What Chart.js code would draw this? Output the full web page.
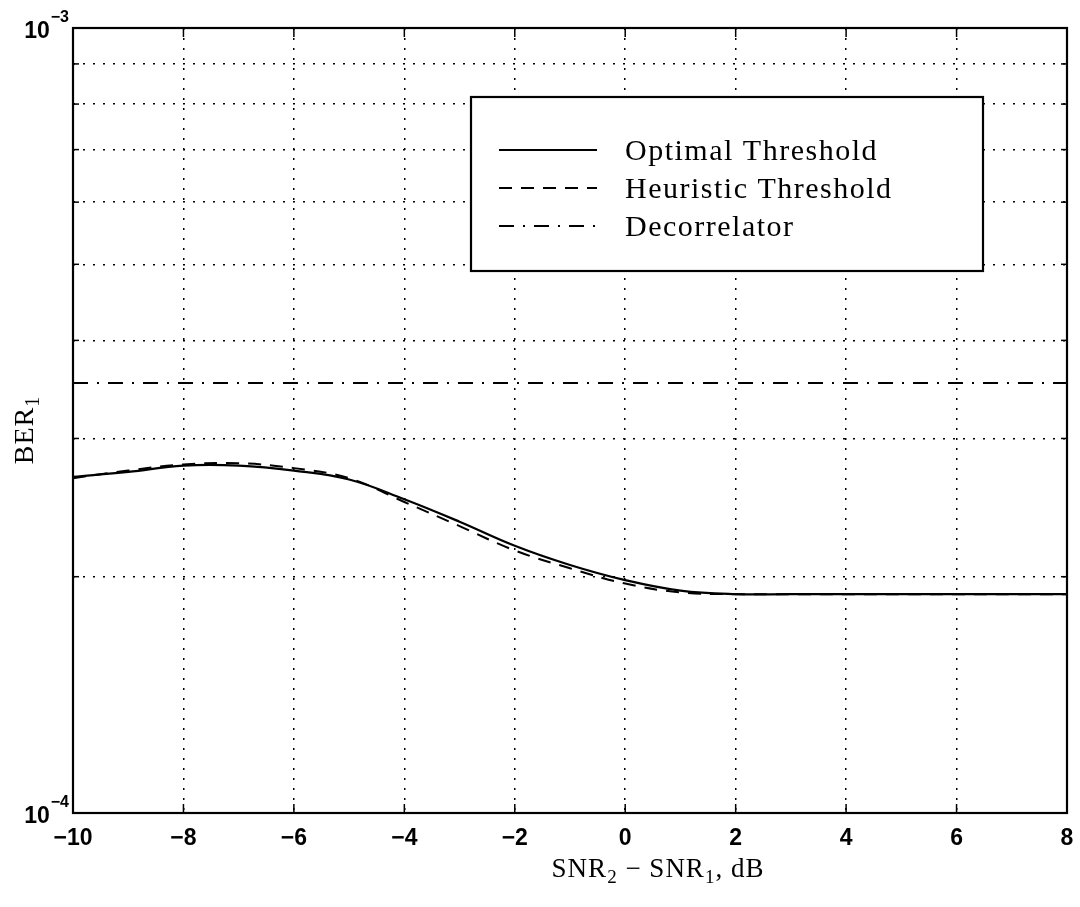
<!DOCTYPE html>
<html>
<head>
<meta charset="utf-8">
<script src="https://cdn.jsdelivr.net/npm/chart.js@4.4.1/dist/chart.umd.min.js"></script>
<style>
html,body{margin:0;padding:0;background:#fff;}
#wrap{width:1080px;height:907px;}
</style>
</head>
<body>
<div id="wrap"><canvas id="chartBer" width="1080" height="907"></canvas></div>
<script>

/* DATA (BER values in units of 1e-4) */

const snrDiff = [-10,-9,-8,-7,-6,-5,-4,-3,-2,-1,0,1,2,3,4,5,6,7,8];

const berOptimal   = [2.68,2.72,2.77,2.77,2.73,2.66,2.51,2.35,2.19,2.07,1.98,1.92,1.90,1.90,1.90,1.90,1.90,1.90,1.90];
const berHeuristic = [2.67,2.73,2.78,2.79,2.75,2.67,2.49,2.32,2.16,2.05,1.96,1.91,1.90,1.90,1.90,1.90,1.90,1.90,1.90];
const berDecorr    = [3.53,3.53,3.53,3.53,3.53,3.53,3.53,3.53,3.53,3.53,3.53,3.53,3.53,3.53,3.53,3.53,3.53,3.53,3.53];

const seriesNames = ["Optimal Threshold","Heuristic Threshold","Decorrelator"];
const xTicks = [-10,-8,-6,-4,-2,0,2,4,6,8];
const yTicks = [1e-4,2e-4,3e-4,4e-4,5e-4,6e-4,7e-4,8e-4,9e-4,1e-3];
const yDecades = [1e-4,1e-3];

function toPoints(vals){
return snrDiff.map((x,i)=>({x:x,y:vals[i]*1e-4}));
}

function minus(v){
return v<0 ? "\u2212"+Math.abs(v) : String(v);
}

/* rich text: parts = [{t, sub, sup}] */

function drawRich(ctx,parts,x,y,size,family,align){
let widths = parts.map(p=>{
ctx.font = ((p.sub||p.sup)? Math.round(size*0.7) : size)+"px "+family;
return ctx.measureText(p.t).width;
});
let total = widths.reduce((a,b)=>a+b,0);
let cx = align==="right" ? x-total : (align==="center" ? x-total/2 : x);
parts.forEach((p,i)=>{
ctx.font = ((p.sub||p.sup)? Math.round(size*0.7) : size)+"px "+family;
let dy = p.sub ? size*0.22 : (p.sup ? -size*0.45 : 0);
ctx.fillText(p.t,cx,y+dy);
cx += widths[i];
});
}

/* frame, inward ticks, labels, legend */

const decorPlugin = {
id:"decor",
afterDraw(chart){

let ctx = chart.ctx;
let a = chart.chartArea;
let xs = chart.scales.x;
let ys = chart.scales.y;

ctx.save();
ctx.strokeStyle = "#000";
ctx.fillStyle = "#000";
ctx.setLineDash([]);

function seg(x1,y1,x2,y2){
ctx.beginPath(); ctx.moveTo(x1,y1); ctx.lineTo(x2,y2); ctx.stroke();
}

ctx.lineWidth = 1.5;
xs.ticks.forEach(t=>{
let px = xs.getPixelForValue(t.value);
seg(px,a.bottom,px,a.bottom-9);
seg(px,a.top,px,a.top+9);
});
ys.ticks.forEach(t=>{
let py = ys.getPixelForValue(t.value);
let len = yDecades.includes(t.value) ? 9 : 6;
seg(a.left,py,a.left+len,py);
seg(a.right,py,a.right-len,py);
});

ctx.lineWidth = 2.2;
ctx.strokeRect(a.left,a.top,a.right-a.left,a.bottom-a.top);

/* y decade labels 10^-4, 10^-3 */

ctx.textBaseline = "alphabetic";
yDecades.forEach(v=>{
let py = ys.getPixelForValue(v);
let exp = "\u2212"+Math.round(-Math.log10(v));
ctx.font = "bold 16px 'Liberation Sans'";
let ew = ctx.measureText(exp).width;
ctx.fillText(exp,69-ew,py-6);
ctx.font = "bold 23px 'Liberation Sans'";
let bw = ctx.measureText("10").width;
ctx.fillText("10",68-ew-bw,py+10);
});

/* axis titles */

let serif = "'Liberation Serif'";
ctx.letterSpacing = "1px";
drawRich(ctx,[{t:"SNR"},{t:"2",sub:true},{t:" \u2212 SNR"},{t:"1",sub:true},{t:", dB"}],658,877,27,serif,"center");

ctx.save();
ctx.translate(33,430);
ctx.rotate(-Math.PI/2);
drawRich(ctx,[{t:"BER"},{t:"1",sub:true}],0,0,28,serif,"center");
ctx.restore();

/* legend box */

let lx=471, ly=97, lw=512, lh=174;
ctx.fillStyle = "#fff";
ctx.fillRect(lx,ly,lw,lh);
ctx.lineWidth = 2.2;
ctx.strokeRect(lx,ly,lw,lh);

ctx.letterSpacing = "1.5px";
ctx.font = "30px "+serif;
ctx.textBaseline = "middle";
chart.data.datasets.forEach((ds,i)=>{
let ry = 150 + i*38;
ctx.strokeStyle = "#000";
ctx.lineWidth = ds.borderWidth;
ctx.setLineDash(ds.borderDash||[]);
seg(499,ry,597,ry);
ctx.setLineDash([]);
ctx.fillStyle = "#000";
ctx.fillText(ds.label,625,ry+2);
});

ctx.restore();
}
};

/* GRAPH */

new Chart(document.getElementById("chartBer"),{

type:"line",

data:{
datasets:[
{
label:seriesNames[0],
data:toPoints(berOptimal),
borderColor:"#000",
borderWidth:2.2,
borderDash:[],
pointRadius:0,
tension:0.4
},
{
label:seriesNames[1],
data:toPoints(berHeuristic),
borderColor:"#000",
borderWidth:2,
borderDash:[13,9],
pointRadius:0,
tension:0.4
},
{
label:seriesNames[2],
data:toPoints(berDecorr),
borderColor:"#000",
borderWidth:2,
borderDash:[15,9,2,9],
pointRadius:0
}
]
},

options:{
responsive:false,
animation:false,
layout:{padding:{top:28,right:13,left:0,bottom:0}},

plugins:{
legend:{display:false},
tooltip:{enabled:false}
},

scales:{

x:{
type:"linear",
min:-10,
max:8,
afterBuildTicks:s=>{ s.ticks = xTicks.map(v=>({value:v})); },
afterFit:s=>{ s.height = 94; s.paddingLeft = 0; s.paddingRight = 0; },
ticks:{
color:"#000",
padding:12,
font:{family:"'Liberation Sans'",size:23,weight:"bold"},
callback:v=>minus(v),
maxRotation:0
},
grid:{color:"#000",lineWidth:1.5,drawTicks:false},
border:{display:false,dash:[2,8]}
},

y:{
type:"logarithmic",
min:1e-4,
max:1e-3,
afterBuildTicks:s=>{ s.ticks = yTicks.map(v=>({value:v})); },
afterFit:s=>{ s.width = 73; },
ticks:{display:false},
grid:{color:"#000",lineWidth:1.5,drawTicks:false},
border:{display:false,dash:[2,8]}
}

}
},

plugins:[decorPlugin]

});

</script>
</body>
</html>
